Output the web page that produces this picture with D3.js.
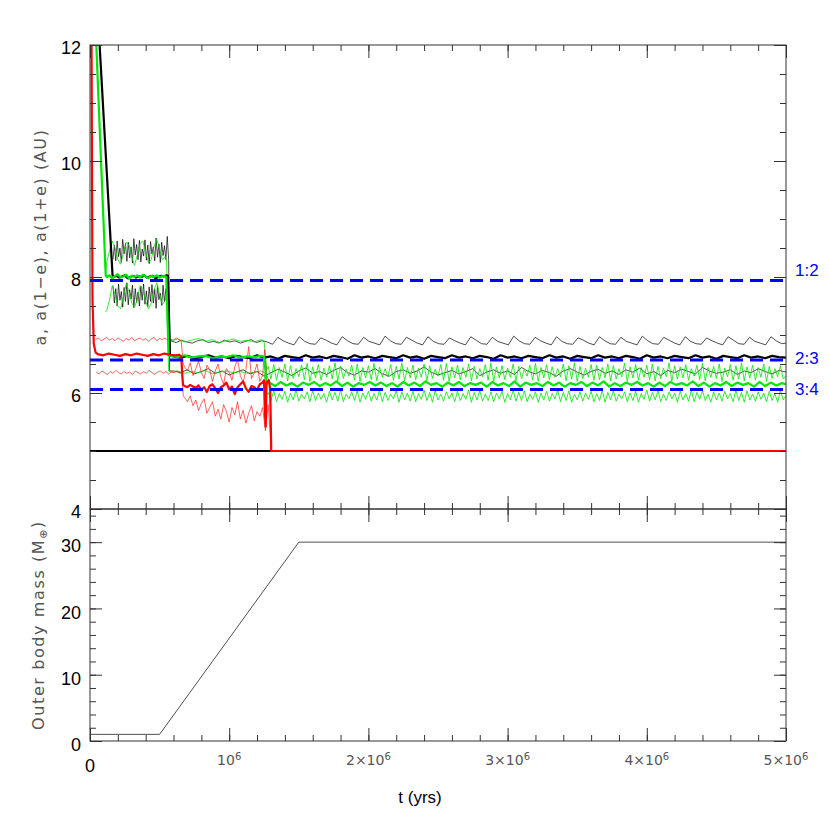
<!doctype html>
<html>
<head>
<meta charset="utf-8">
<style>
body { margin: 0; background: #fff; }
svg { font-family: "Liberation Sans", Arial, sans-serif; }
.tick line { stroke: #333; }
.hershey { font-family: "DejaVu Sans", sans-serif; fill: #555; }
</style>
</head>
<body>
<svg width="830" height="830"></svg>
<script src="https://d3js.org/d3.v7.min.js"></script>
<script>
// time in Myr, a in AU
var seg = function(t0, dt, vals) { return vals.map(function(v, i) { return [t0 + i * dt, v]; }); };

var resonances = [7.94, 6.57, 6.06];
var resonanceLabels = ["1:2", "2:3", "3:4"];
var resonanceLabelAt = [8.12, 6.60, 6.07];

var xMajor = [0, 1, 2, 3, 4, 5];
var xLabels = [["0", ""], ["10", "6"], ["2×10", "6"], ["3×10", "6"], ["4×10", "6"], ["5×10", "6"]];
var aMajor = [4, 6, 8, 10, 12];
var massMajor = [0, 10, 20, 30];

var massT = [0, 0.5, 1.5, 5];
var massM = [1, 1, 30, 30];

var blackInner = [[0, 5.0], [1.31, 5.0]];

var blackA8 = [8.00,8.02,7.99,8.01,8.03,7.98,8.00,8.02,7.99,8.01,8.00,8.03,7.99,8.01,8.02,7.98,8.00,8.02,8.01,8.03];
var blackATail = [6.63,6.61,6.64,6.60,6.62,6.65,6.61,6.63,6.60,6.64,6.62,6.60,6.65,6.61,6.63,6.59,6.64,6.62,6.60,6.65,
  6.61,6.63,6.60,6.64,6.62,6.59,6.65,6.61,6.63,6.60,6.64,6.62,6.60,6.65,6.61,6.63,6.59,6.64,6.62,6.60,
  6.65,6.61,6.63,6.60,6.64,6.62,6.59,6.65,6.61,6.63,6.60,6.64,6.62,6.60,6.65,6.61,6.63,6.59,6.64,6.62,
  6.60,6.65,6.61,6.63,6.60,6.64,6.62,6.59,6.65,6.61,6.63,6.60,6.64,6.62,6.60,6.65,6.61,6.63,6.59,6.64,
  6.62,6.60,6.65,6.61,6.63,6.60,6.64,6.62,6.61];
var blackQ8 = [8.30,8.55,8.28,8.62,8.35,8.50,8.25,8.65,8.40,8.58,8.27,8.60,8.33,8.52,8.24,8.66,8.38,8.56,8.30,8.63,
  8.26,8.48,8.36,8.64,8.29,8.55,8.23,8.61,8.40,8.52,8.28,8.67,8.34,8.57,8.25,8.60,8.37,8.54,8.30,8.70];
var blackQTail = [6.90,6.87,6.91,6.88,6.86,6.90,6.92,6.87,6.89,6.86,6.91,6.88,6.90,6.86,6.89,6.92,6.87,6.90,6.88,
  6.84,6.96,6.90,6.86,6.83,6.97,6.89,6.85,6.84,6.95,6.91,6.86,6.83,6.97,6.90,6.85,6.84,6.96,6.89,6.86,
  6.83,6.98,6.90,6.85,6.84,6.96,6.91,6.86,6.83,6.97,6.89,6.85,6.84,6.95,6.90,6.86,6.83,6.97,6.91,6.85,
  6.84,6.96,6.89,6.86,6.83,6.98,6.90,6.85,6.84,6.96,6.90,6.86,6.83,6.97,6.89,6.85,6.84,6.95,6.91,6.86,
  6.83,6.97,6.90,6.85,6.84,6.96,6.89,6.86,6.83,6.98,6.90,6.85,6.84,6.96,6.91,6.86,6.83,6.97,6.89,6.85,
  6.84,6.95,6.90,6.86,6.83,6.97,6.91,6.85,6.84,6.96,6.89,6.86,6.83,6.97,6.90,6.85];
var blackq8 = [7.85,7.55,7.80,7.50,7.88,7.60,7.75,7.48,7.82,7.58,7.90,7.52,7.78,7.62,7.86,7.47,7.80,7.56,7.74,7.50,
  7.84,7.60,7.88,7.53,7.76,7.49,7.83,7.58,7.87,7.55,7.79,7.46,7.85,7.61,7.72,7.51,7.86,7.57,7.80,7.54];
var blackqTail = [6.38,6.35,6.40,6.33,6.37,6.42,6.34,6.38,6.31,6.36,6.40,6.33,6.37,6.29,6.35,6.41,6.36,6.30,6.38,6.43,
  6.34,6.37,6.32,6.39,6.44,6.35,6.31,6.38,6.36,6.42,6.33,6.29,6.37,6.40,6.34,6.38,6.45,6.36,6.31,6.35,
  6.39,6.33,6.37,6.42,6.30,6.36,6.40,6.34,6.38,6.32,6.44,6.37,6.33,6.39,6.35,6.29,6.38,6.42,6.36,6.31,
  6.37,6.41,6.34,6.38,6.32,6.40,6.36,6.43,6.33,6.37,6.30,6.39,6.35,6.41,6.37,6.33,6.44,6.38,6.34,6.36,
  6.40,6.32,6.38,6.35,6.42,6.37,6.33,6.39,6.36];

var greenA8 = [8.00,8.03,7.98,8.02,8.05,7.99,8.01,8.04,7.97,8.02,8.00,8.03,7.99,8.04,8.01,7.98,8.02,8.00,8.03,7.99,8.02,8.01];
var greenA66 = [6.64,6.62,6.65,6.61,6.63,6.64,6.60,6.63,6.62,6.65,6.61,6.63,6.62,6.64];
var greenATail = [6.18,6.12,6.19,6.13,6.17,6.11,6.18,6.14,6.19,6.12,6.17,6.13,6.20,6.12,6.18,6.11,6.17,6.14,6.19,6.13,
  6.18,6.12,6.17,6.11,6.19,6.13,6.18,6.12,6.20,6.14,6.17,6.11,6.18,6.13,6.19,6.12,6.17,6.14,6.18,6.11,
  6.19,6.13,6.17,6.12,6.20,6.11,6.18,6.14,6.17,6.12,6.19,6.13,6.18,6.11,6.17,6.14,6.19,6.12,6.18,6.13,
  6.20,6.11,6.17,6.12,6.18,6.14,6.19,6.13,6.17,6.11,6.18,6.12,6.19,6.14,6.17,6.13,6.20,6.12,6.18,6.11,
  6.17,6.13,6.19,6.12,6.18,6.14,6.17,6.11,6.19,6.12,6.18,6.13,6.17];
var greenQ8 = [8.25,8.45,8.62,8.50,8.30,8.22,8.40,8.60,8.55,8.35,8.20,8.38,8.58,8.62,8.42,8.25,8.30,8.52,8.65,8.48,8.30,8.35];
var greenQ66 = [6.90,6.93,6.88,6.91,6.94,6.89,6.92,6.87,6.90,6.93,6.89,6.91,6.88,6.92];
var greenQTail = [6.46,6.24,6.49,6.22,6.44,6.27,6.50,6.21,6.47,6.25,6.42,6.28,6.48,6.23,6.51,6.20,6.45,6.26,6.49,6.22,
  6.43,6.27,6.47,6.24,6.52,6.21,6.46,6.25,6.41,6.29,6.48,6.22,6.50,6.20,6.44,6.26,6.47,6.23,6.51,6.21,
  6.45,6.27,6.42,6.28,6.49,6.22,6.46,6.24,6.52,6.20,6.44,6.26,6.48,6.23,6.43,6.27,6.50,6.21,6.47,6.25,
  6.41,6.29,6.49,6.22,6.51,6.20,6.45,6.26,6.48,6.23,6.44,6.27,6.50,6.21,6.46,6.24,6.42,6.28,6.49,6.22,
  6.52,6.20,6.45,6.26,6.47,6.23,6.43,6.27,6.50,6.21,6.46,6.25,6.41,6.29,6.48,6.22,6.51,6.20,6.44,6.26,
  6.49,6.23,6.45,6.27,6.42,6.28,6.50,6.21,6.47,6.24,6.52,6.20,6.46,6.25,6.43,6.27,6.49,6.22,6.48,6.23,
  6.44,6.26,6.50,6.21,6.47,6.24,6.42,6.28,6.51,6.20,6.45,6.26,6.49,6.22,6.44,6.27,6.48,6.23,6.50,6.21,
  6.46,6.25,6.43,6.28,6.52,6.20,6.47,6.24,6.45,6.26,6.49,6.22,6.42,6.29,6.48,6.23,6.51,6.21,6.44,6.27,
  6.46,6.25,6.50,6.20,6.43,6.28,6.49,6.22,6.47,6.24,6.52,6.21,6.45,6.26,6.48,6.23,6.44,6.27,6.50,6.20,
  6.46,6.25,6.42,6.28,6.47,6.24];
var greenq8 = [7.42,7.60,7.85,7.70,7.50,7.45,7.65,7.88,7.75,7.55,7.48,7.62,7.85,7.80,7.58,7.45,7.55,7.78,7.90,7.70,7.52,7.60];
var greenq66 = [6.36,6.38,6.34,6.37,6.35,6.39,6.33,6.36,6.38,6.35,6.37,6.34,6.36,6.38];
var greenqTail = [6.01,5.87,6.04,5.85,5.99,5.89,6.03,5.84,6.00,5.88,6.05,5.86,5.98,5.90,6.02,5.85,6.04,5.87,6.00,5.89,
  5.99,5.84,6.03,5.88,6.01,5.86,6.05,5.85,5.98,5.90,6.02,5.87,6.04,5.84,6.00,5.89,6.03,5.86,5.99,5.88,
  6.05,5.85,6.01,5.87,5.98,5.90,6.04,5.84,6.02,5.88,6.00,5.86,6.03,5.85,5.99,5.89,6.05,5.87,6.01,5.84,
  6.04,5.88,5.98,5.86,6.02,5.90,6.00,5.85,6.03,5.87,5.99,5.89,6.05,5.84,6.01,5.88,6.04,5.86,5.98,5.87,
  6.02,5.85,6.00,5.90,6.03,5.84,5.99,5.88,6.05,5.86,6.01,5.87,6.04,5.85,5.98,5.89,6.02,5.84,6.00,5.88,
  6.03,5.86,5.99,5.90,6.05,5.85,6.01,5.87,6.04,5.84,5.98,5.88,6.02,5.86,6.00,5.89,6.03,5.85,5.99,5.87,
  6.05,5.84,6.01,5.88,6.04,5.86,5.98,5.90,6.02,5.85,6.00,5.87,6.03,5.84,5.99,5.89,6.05,5.86,6.01,5.88,
  6.04,5.85,5.98,5.87,6.02,5.90,6.00,5.84,6.03,5.88,5.99,5.86,6.05,5.85,6.01,5.89,6.04,5.87,5.98,5.84,
  6.02,5.88,6.00,5.86,6.03,5.90,5.99,5.85,6.05,5.87,6.01,5.84,6.04,5.88,5.98,5.86,6.02,5.89,6.00,5.85,
  6.03,5.87,5.99,5.84,6.05,5.88];

var redA66 = [6.67,6.65,6.68,6.66,6.64,6.67,6.65,6.68,6.66,6.64,6.67,6.65,6.68,6.66,6.65];
var redA61 = [6.12,6.10,6.14,6.11,6.09,6.13,6.05,6.10,6.02,6.12,6.15,6.08,6.00,6.10,6.13,6.18,6.06,6.11,5.98,6.10,
  6.15,6.20,6.08,6.02,6.12,6.10,6.05,6.15,6.18];
var redQ69 = [6.92,6.95,6.90,6.93,6.96,6.91,6.94,6.90,6.95,6.92,6.89,6.94,6.91,6.96,6.90,6.93,6.95,6.91,6.94,6.89,
  6.93,6.96,6.90,6.94,6.92,6.95,6.90,6.93,6.91,6.95,6.92];
var redQ64 = [6.45,6.38,6.52,6.30,6.42,6.55,6.35,6.25,6.48,6.40,6.20,6.38,6.50,6.28,6.15,6.42,6.35,6.22,6.45,6.58,
  6.30,6.18,6.40,6.80,6.25,6.35,6.50,6.20,6.30];
var redq64 = [6.36,6.33,6.38,6.35,6.32,6.37,6.34,6.39,6.35,6.33,6.37,6.34,6.36,6.32,6.38,6.35,6.33,6.37,6.34,6.39,
  6.35,6.32,6.36,6.38,6.34,6.37,6.33,6.36,6.35,6.38,6.34];
var redq57 = [5.92,5.85,5.95,5.78,5.88,5.70,5.82,5.90,5.65,5.75,5.85,5.60,5.72,5.55,5.80,5.68,5.50,5.75,5.62,5.85,
  5.55,5.70,5.48,5.65,5.78,5.52,5.68,5.60,5.75];

var blackA = [[0.055, 12.6], [0.162, 8.03]].concat(seg(0.17, 0.02, blackA8), [[0.56, 8.02], [0.575, 6.66]], seg(0.6, 0.05, blackATail));
var blackQ = seg(0.165, 0.01, blackQ8).concat([[0.565, 8.3], [0.572, 6.9]], seg(0.58, 0.0385, blackQTail), [[5.0, 6.86]]);
var blackq = seg(0.165, 0.01, blackq8).concat([[0.565, 7.6], [0.572, 6.38]], seg(0.6, 0.05, blackqTail));

var greenA = [[0.035, 12.6], [0.113, 8.02]].concat(seg(0.12, 0.02, greenA8), [[0.548, 8.0], [0.565, 6.65]],
  seg(0.58, 0.05, greenA66), [[1.25, 6.63], [1.27, 6.16]], seg(1.29, 0.04, greenATail), [[5.0, 6.15]]);
var greenQ = [[0.113, 8.1]].concat(seg(0.12, 0.02, greenQ8), [[0.55, 8.3], [0.565, 6.92]],
  seg(0.58, 0.05, greenQ66), [[1.25, 6.90], [1.27, 6.40]], seg(1.28, 0.02, greenQTail), [[5.0, 6.3]]);
var greenq = [[0.11, 7.40]].concat(seg(0.12, 0.02, greenq8), [[0.55, 7.7], [0.565, 6.38]],
  seg(0.58, 0.05, greenq66), [[1.25, 6.36], [1.27, 5.96]], seg(1.28, 0.02, greenqTail), [[5.0, 5.95]]);

var redA = [[0.01, 12.6], [0.018, 7.6], [0.027, 6.85], [0.04, 6.70]].concat(seg(0.055, 0.04, redA66),
  [[0.64, 6.66], [0.655, 6.63], [0.668, 6.14]], seg(0.68, 0.02, redA61),
  [[1.25, 6.22], [1.256, 5.70], [1.262, 5.42], [1.268, 6.18], [1.285, 6.22], [1.295, 6.05], [1.302, 5.0], [5.0, 5.0]]);
var redQ = seg(0.04, 0.02, redQ69).concat([[0.655, 6.90], [0.67, 6.50]], seg(0.68, 0.02, redQ64),
  [[1.255, 6.75], [1.27, 6.30], [1.29, 6.20], [1.303, 5.0]]);
var redq = seg(0.045, 0.02, redq64).concat([[0.66, 6.35], [0.67, 5.95]], seg(0.68, 0.02, redq57),
  [[1.26, 5.35], [1.28, 5.80], [1.303, 5.0]]);

var svg = d3.select("svg");
// "top" is taken by window.top, so use other names
var pL = 90, pR = 786, pT = 45, pM = 509, pB = 741;

var x = d3.scaleLinear().domain([0, 5]).range([pL, pR]);
var yA = d3.scaleLinear().domain([4, 12]).range([pM, pT]);
var yM = d3.scaleLinear().domain([0, 35]).range([pB, pM]);

svg.append("clipPath").attr("id", "clipA").append("rect")
  .attr("x", pL).attr("y", pT).attr("width", pR - pL).attr("height", pM - pT);

var lineA = d3.line().x(function(d) { return x(d[0]); }).y(function(d) { return yA(d[1]); });

var plot = svg.append("g").attr("clip-path", "url(#clipA)");

var series = [
  [blackQ, "#000", 0.7], [blackq, "#000", 0.7],
  [greenQ, "#00e600", 0.8], [greenq, "#00e600", 0.8],
  [redQ, "#ff2020", 0.7], [redq, "#ff2020", 0.7],
  [blackInner, "#000", 2.2], [blackA, "#000", 2.2],
  [greenA, "#00e600", 2.2], [redA, "#ff0000", 2.2]
];
series.forEach(function(s) {
  plot.append("path").datum(s[0]).attr("d", lineA)
    .attr("fill", "none").attr("stroke", s[1]).attr("stroke-width", s[2]).attr("stroke-linejoin", "round");
});

plot.selectAll(".res").data(resonances).enter().append("line")
  .attr("x1", pL).attr("x2", pR)
  .attr("y1", function(d) { return yA(d); }).attr("y2", function(d) { return yA(d); })
  .attr("stroke", "#0000ff").attr("stroke-width", 3).attr("stroke-dasharray", "13,7");

svg.selectAll(".reslab").data(resonanceLabels).enter().append("text")
  .attr("x", pR + 9).attr("y", function(d, i) { return yA(resonanceLabelAt[i]); })
  .attr("dy", "0.35em").attr("fill", "#0000ff").style("font-size", "17px").text(function(d) { return d; });

// mass panel
var mass = massT.map(function(t, i) { return [t, massM[i]]; });
svg.append("path").datum(mass)
  .attr("d", d3.line().x(function(d) { return x(d[0]); }).y(function(d) { return yM(d[1]); }))
  .attr("fill", "none").attr("stroke", "#222").attr("stroke-width", 0.8);

// axes
function noDomain(g) { g.select(".domain").remove(); }
function ax(axis, tx, ty) {
  svg.append("g").attr("transform", "translate(" + tx + "," + ty + ")").call(axis).call(noDomain)
    .selectAll("text").remove();
}
var xMinor = d3.range(0, 5.01, 0.2);
// x ticks on every horizontal edge, inward
[[d3.axisTop, pT], [d3.axisBottom, pM], [d3.axisTop, pM], [d3.axisBottom, pB]].forEach(function(p) {
  ax(p[0](x).tickValues(xMajor).tickSize(-13), 0, p[1]);
  ax(p[0](x).tickValues(xMinor).tickSize(-6), 0, p[1]);
});
ax(d3.axisLeft(yA).tickValues(aMajor).tickSize(-12), pL, 0);
ax(d3.axisLeft(yA).tickValues(d3.range(4, 12.01, 0.5)).tickSize(-6), pL, 0);
ax(d3.axisRight(yA).tickValues(aMajor).tickSize(-12), pR, 0);
ax(d3.axisRight(yA).tickValues(d3.range(4, 12.01, 0.5)).tickSize(-6), pR, 0);
ax(d3.axisLeft(yM).tickValues(massMajor).tickSize(-12), pL, 0);
ax(d3.axisLeft(yM).tickValues(d3.range(0, 35.01, 2)).tickSize(-6), pL, 0);
ax(d3.axisRight(yM).tickValues(massMajor).tickSize(-12), pR, 0);
ax(d3.axisRight(yM).tickValues(d3.range(0, 35.01, 2)).tickSize(-6), pR, 0);

svg.selectAll(".frame").data([[pT, pM], [pM, pB]]).enter().append("rect")
  .attr("x", pL).attr("y", function(d) { return d[0]; })
  .attr("width", pR - pL).attr("height", function(d) { return d[1] - d[0]; })
  .attr("fill", "none").attr("stroke", "#333").attr("stroke-width", 1);

// tick labels
svg.selectAll(".alab").data(aMajor).enter().append("text")
  .attr("x", pL - 9).attr("y", function(d) { return yA(d) + 3; }).attr("dy", "0.35em")
  .attr("text-anchor", "end").style("font-size", "18px").text(function(d) { return d; });
svg.selectAll(".mlab").data(massMajor).enter().append("text")
  .attr("x", pL - 9).attr("y", function(d) { return yM(d) + 4; }).attr("dy", "0.35em")
  .attr("text-anchor", "end").style("font-size", "18px").text(function(d) { return d; });

var xl = svg.selectAll(".xlab").data(xMajor).enter().append("text")
  .attr("x", function(d) { return x(d); }).attr("y", 765).attr("text-anchor", "middle");
xl.each(function(d, i) {
  var t = d3.select(this);
  if (i === 0) {
    t.attr("y", 772).style("font-size", "18px").attr("fill", "#000").text(xLabels[i][0]);
  } else {
    t.attr("class", "hershey").style("font-size", "14px");
    t.append("tspan").text(xLabels[i][0]);
    t.append("tspan").attr("dy", "-0.5em").style("font-size", "10px").text(xLabels[i][1]);
  }
});

svg.append("text").attr("x", 420).attr("y", 803).attr("text-anchor", "middle")
  .style("font-size", "17px").text("t (yrs)");

svg.append("text").attr("class", "hershey").attr("text-anchor", "middle")
  .attr("transform", "translate(46,237) rotate(-90)").style("font-size", "16px").style("letter-spacing", "1.6px")
  .text("a, a(1\u2212e), a(1+e) (AU)");

var mt = svg.append("text").attr("class", "hershey").attr("text-anchor", "middle")
  .attr("transform", "translate(44,625) rotate(-90)").style("font-size", "16px").style("letter-spacing", "1.6px");
mt.append("tspan").text("Outer body mass (M");
mt.append("tspan").attr("dy", "0.3em").style("font-size", "11px").text("\u2295");
mt.append("tspan").attr("dy", "-0.3em").text(")");
</script>
</body>
</html>
